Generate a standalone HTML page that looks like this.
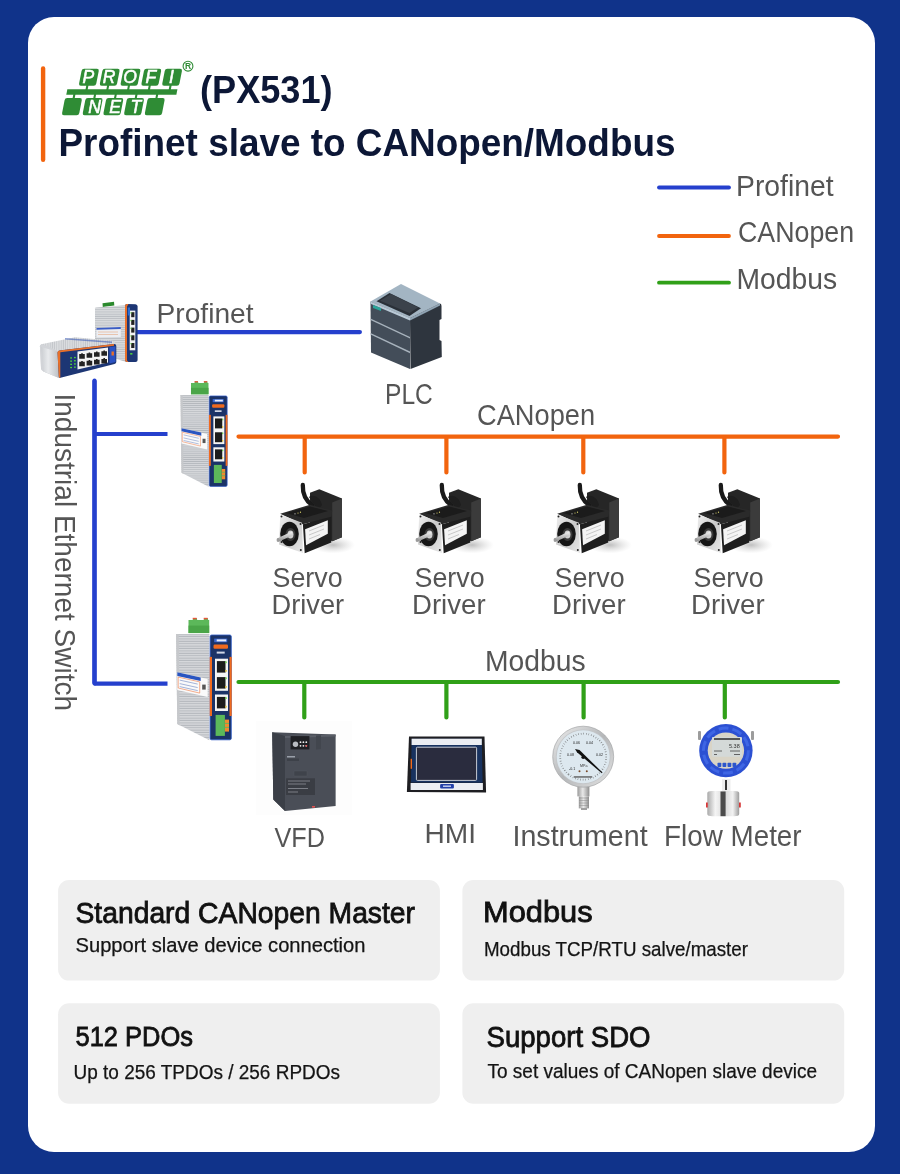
<!DOCTYPE html>
<html><head><meta charset="utf-8"><title>PX531</title>
<style>
html,body{margin:0;padding:0;width:900px;height:1174px;overflow:hidden;background:#10338a;}
svg{display:block;font-family:"Liberation Sans",sans-serif;will-change:transform;}
</style></head><body>
<svg width="900" height="1174" viewBox="0 0 900 1174">
<rect x="0" y="0" width="900" height="1174" fill="#10338a"/>
<rect x="28" y="17" width="847" height="1135" rx="26" fill="#fff"/>
<line x1="43.1" y1="68.5" x2="43.1" y2="159.7" stroke="#f2640e" stroke-width="4.4" stroke-linecap="round"/>
<text x="200.0" y="103.2" font-size="39" fill="#0c1736" textLength="132.6" lengthAdjust="spacingAndGlyphs" font-weight="bold">(PX531)</text>
<text x="58.5" y="156.4" font-size="38.4" fill="#0c1736" textLength="617.0" lengthAdjust="spacingAndGlyphs" font-weight="bold">Profinet slave to CANopen/Modbus</text>
<line x1="659" y1="187.5" x2="729" y2="187.5" stroke="#2540cd" stroke-width="3.8" stroke-linecap="round"/>
<line x1="659" y1="236" x2="729" y2="236" stroke="#f2640e" stroke-width="3.8" stroke-linecap="round"/>
<line x1="659" y1="282.7" x2="729" y2="282.7" stroke="#30a018" stroke-width="3.8" stroke-linecap="round"/>
<text x="736.0" y="196.3" font-size="28.6" fill="#555555" textLength="97.6" lengthAdjust="spacingAndGlyphs">Profinet</text>
<text x="738.0" y="242.2" font-size="28.6" fill="#555555" textLength="116.1" lengthAdjust="spacingAndGlyphs">CANopen</text>
<text x="736.5" y="289.3" font-size="28.6" fill="#555555" textLength="100.6" lengthAdjust="spacingAndGlyphs">Modbus</text>
<g stroke-linecap="round" fill="none" stroke-width="4.2">
<path d="M136 332.1H359.9" stroke="#2540cd"/>
<path d="M94.5 380.5V683.6 M94.5 434H167.5 M94.5 683.6H167.5" stroke="#2540cd" stroke-linecap="butt"/>
<path d="M94.5 380.5V683.6" stroke="#2540cd"/>
<path d="M238.5 436.6H838 M304.7 436.6V472.5 M446.4 436.6V472.5 M583.3 436.6V472.5 M724.4 436.6V472.5" stroke="#f2640e"/>
<path d="M238.5 682H838 M304.3 682V717.5 M446.4 682V717.5 M583.6 682V717.5 M724.8 682V717.5" stroke="#30a018"/>
</g>
<text x="156.5" y="323.4" font-size="28.5" fill="#555555" textLength="97.1" lengthAdjust="spacingAndGlyphs">Profinet</text>
<text x="385.0" y="403.8" font-size="28.7" fill="#555555" textLength="47.8" lengthAdjust="spacingAndGlyphs">PLC</text>
<text x="477.0" y="425.3" font-size="28.6" fill="#555555" textLength="118.1" lengthAdjust="spacingAndGlyphs">CANopen</text>
<text x="485.0" y="670.7" font-size="28.6" fill="#555555" textLength="100.6" lengthAdjust="spacingAndGlyphs">Modbus</text>
<text x="272.5" y="586.5" font-size="28" fill="#555555" textLength="70.1" lengthAdjust="spacingAndGlyphs">Servo</text>
<text x="271.5" y="614.0" font-size="28" fill="#555555" textLength="72.6" lengthAdjust="spacingAndGlyphs">Driver</text>
<text x="414.5" y="586.5" font-size="28" fill="#555555" textLength="70.1" lengthAdjust="spacingAndGlyphs">Servo</text>
<text x="412.0" y="614.0" font-size="28" fill="#555555" textLength="73.6" lengthAdjust="spacingAndGlyphs">Driver</text>
<text x="554.5" y="586.5" font-size="28" fill="#555555" textLength="70.1" lengthAdjust="spacingAndGlyphs">Servo</text>
<text x="552.0" y="614.0" font-size="28" fill="#555555" textLength="73.6" lengthAdjust="spacingAndGlyphs">Driver</text>
<text x="693.5" y="586.5" font-size="28" fill="#555555" textLength="70.1" lengthAdjust="spacingAndGlyphs">Servo</text>
<text x="691.0" y="614.0" font-size="28" fill="#555555" textLength="73.6" lengthAdjust="spacingAndGlyphs">Driver</text>
<text x="274.5" y="846.5" font-size="28.3" fill="#555555" textLength="50.5" lengthAdjust="spacingAndGlyphs">VFD</text>
<text x="424.5" y="843.0" font-size="28" fill="#555555" textLength="51.5" lengthAdjust="spacingAndGlyphs">HMI</text>
<text x="512.5" y="845.5" font-size="28.6" fill="#555555" textLength="135.1" lengthAdjust="spacingAndGlyphs">Instrument</text>
<text x="664.0" y="845.5" font-size="28.6" fill="#555555" textLength="137.6" lengthAdjust="spacingAndGlyphs">Flow Meter</text>
<g transform="translate(55.2 395.5) rotate(90)"><text x="-2.0" y="0.0" font-size="28.9" fill="#555555" textLength="317.5" lengthAdjust="spacingAndGlyphs">Industrial Ethernet Switch</text></g>
<rect x="58.1" y="880.1" width="381.8" height="100.5" rx="11" fill="#efefef"/>
<rect x="462.4" y="880.1" width="381.8" height="100.5" rx="11" fill="#efefef"/>
<rect x="58.1" y="1003.2" width="381.8" height="100.5" rx="11" fill="#efefef"/>
<rect x="462.4" y="1003.2" width="381.8" height="100.5" rx="11" fill="#efefef"/>
<text x="75.5" y="923.2" font-size="28.8" fill="#111111" textLength="339.5" lengthAdjust="spacingAndGlyphs" stroke="#111" stroke-width="0.8">Standard CANopen Master</text>
<text x="75.5" y="951.7" font-size="19.7" fill="#141414" textLength="290.0" lengthAdjust="spacingAndGlyphs" stroke="#141414" stroke-width="0.25">Support slave device connection</text>
<text x="483.0" y="922.4" font-size="28.6" fill="#111111" textLength="109.6" lengthAdjust="spacingAndGlyphs" stroke="#111" stroke-width="0.8">Modbus</text>
<text x="484.0" y="955.7" font-size="19.7" fill="#141414" textLength="264.0" lengthAdjust="spacingAndGlyphs" stroke="#141414" stroke-width="0.25">Modbus TCP/RTU salve/master</text>
<text x="75.5" y="1046.1" font-size="28.2" fill="#111111" textLength="117.5" lengthAdjust="spacingAndGlyphs" stroke="#111" stroke-width="0.8">512 PDOs</text>
<text x="73.5" y="1078.8" font-size="19.9" fill="#141414" textLength="266.5" lengthAdjust="spacingAndGlyphs" stroke="#141414" stroke-width="0.25">Up to 256 TPDOs / 256 RPDOs</text>
<text x="486.5" y="1046.9" font-size="29" fill="#111111" textLength="164.0" lengthAdjust="spacingAndGlyphs" stroke="#111" stroke-width="0.8">Support SDO</text>
<text x="487.5" y="1078.0" font-size="19.9" fill="#141414" textLength="329.5" lengthAdjust="spacingAndGlyphs" stroke="#141414" stroke-width="0.25">To set values of CANopen slave device</text>
<g transform="translate(0 91.9) skewX(-11)" fill="#2f8c35">
<rect x="66.8" y="-2.75" width="110.1" height="5.5"/>
<rect x="77.45" y="-23.2" width="17.2" height="17" rx="2.2"/>
<rect x="85.05" y="-7" width="2.1" height="5"/>
<rect x="98.25" y="-23.2" width="17.2" height="17" rx="2.2"/>
<rect x="105.85" y="-7" width="2.1" height="5"/>
<rect x="119.05" y="-23.2" width="17.2" height="17" rx="2.2"/>
<rect x="126.65" y="-7" width="2.1" height="5"/>
<rect x="139.85" y="-23.2" width="17.2" height="17" rx="2.2"/>
<rect x="147.45" y="-7" width="2.1" height="5"/>
<rect x="160.65" y="-23.2" width="17.2" height="17" rx="2.2"/>
<rect x="168.25" y="-7" width="2.1" height="5"/>
<rect x="66.20" y="6.2" width="17.2" height="17.1" rx="2.2"/>
<rect x="73.80" y="2" width="2.1" height="5"/>
<rect x="86.90" y="6.2" width="17.2" height="17.1" rx="2.2"/>
<rect x="94.50" y="2" width="2.1" height="5"/>
<rect x="107.60" y="6.2" width="17.2" height="17.1" rx="2.2"/>
<rect x="115.20" y="2" width="2.1" height="5"/>
<rect x="128.30" y="6.2" width="17.2" height="17.1" rx="2.2"/>
<rect x="135.90" y="2" width="2.1" height="5"/>
<rect x="149.00" y="6.2" width="17.2" height="17.1" rx="2.2"/>
<rect x="156.60" y="2" width="2.1" height="5"/>
</g>
<g font-family="Liberation Sans" font-style="italic" font-size="17.5" fill="#fff" stroke="#fff" stroke-width="0.55" text-anchor="middle">
<text x="88.35" y="83.4">P</text>
<text x="109.15" y="83.4">R</text>
<text x="129.95" y="83.4">O</text>
<text x="150.75" y="83.4">F</text>
<text x="171.55" y="83.4">I</text>
<text x="94.50" y="112.8">N</text>
<text x="115.20" y="112.8">E</text>
<text x="135.90" y="112.8">T</text>
</g>
<circle cx="188" cy="66.2" r="4.9" fill="none" stroke="#2f8c35" stroke-width="1.1"/>
<text x="188" y="69.4" font-size="8.5" font-weight="bold" fill="#2f8c35" text-anchor="middle">R</text>
<defs>
<pattern id="ribs" width="4" height="2.2" patternUnits="userSpaceOnUse"><rect width="4" height="2.2" fill="#dadcdf"/><rect y="1.3" width="4" height="0.9" fill="#b9bdc2"/></pattern>
<pattern id="ribsv" width="2.2" height="4" patternUnits="userSpaceOnUse"><rect width="2.2" height="4" fill="#dcdee1"/><rect x="1.3" width="0.9" height="4" fill="#c2c5c9"/></pattern>
<linearGradient id="silv" x1="0" y1="0" x2="1" y2="0"><stop offset="0" stop-color="#c9ccd0"/><stop offset="0.4" stop-color="#eceef0"/><stop offset="1" stop-color="#b8bcc1"/></linearGradient>
</defs>
<path d="M102.5 303.2 L114 301.8 L114.3 305.6 L102.8 307 Z" fill="#2c8a2e"/>
<path d="M95 308.5 Q95 307.6 96 307.5 L125.3 305.2 L125.3 361.8 L95 352 Z" fill="url(#ribs)"/>
<path d="M96.5 328 L120.8 327 L120.8 337 L96.5 337.5 Z" fill="#eceef2"/>
<path d="M96.5 328 L120.8 327 L120.8 329 L96.5 329.8 Z" fill="#3a5cc4"/><path d="M98 332 h20 M98 334.5 h20" stroke="#e59a6a" stroke-width="0.5"/>
<path d="M125 306 Q125 304 127 304 L135.5 304.3 Q137.6 304.6 137.6 306.5 L137.6 360 Q137.6 362 135.5 362 L127 362 Q125 362 125 360 Z" fill="#1d3674"/>
<path d="M125 306 Q125 304 127 304 L128.5 304 L127 306.5 L127 360.5 L128.5 362 L127 362 Q125 362 125 360 Z" fill="#e8702a"/>
<rect x="129.7" y="310.6" width="5.6" height="39.7" fill="#f2f2f2"/>
<rect x="131.2" y="312.2" width="3.2" height="5" fill="#222"/>
<rect x="130.5" y="312.2" width="1" height="1.3" fill="#5ecf3a"/>
<rect x="131.2" y="319.9" width="3.2" height="5" fill="#222"/>
<rect x="130.5" y="319.9" width="1" height="1.3" fill="#5ecf3a"/>
<rect x="131.2" y="327.6" width="3.2" height="5" fill="#222"/>
<rect x="130.5" y="327.6" width="1" height="1.3" fill="#5ecf3a"/>
<rect x="131.2" y="335.3" width="3.2" height="5" fill="#222"/>
<rect x="130.5" y="335.3" width="1" height="1.3" fill="#5ecf3a"/>
<rect x="131.2" y="343.0" width="3.2" height="5" fill="#222"/>
<rect x="130.5" y="343.0" width="1" height="1.3" fill="#5ecf3a"/>
<rect x="127.8" y="307.5" width="2.2" height="8" fill="#2f6fd0"/>
<rect x="130.2" y="353" width="2.2" height="1.6" fill="#4ccf3a"/>
<path d="M40 347.5 Q39.2 344.8 42.5 344 L75 337.3 L113.5 340.7 L116.5 344.5 L59 351.5 L59 378 L43.5 371.5 Q41.2 370.5 41 368 Z" fill="url(#ribsv)"/>
<path d="M40 347.5 Q39.2 344.8 42.5 344 L57 350.5 L59 378 L43.5 371.5 Q41.2 370.5 41 368 Z" fill="#d2d4d8"/>
<path d="M41 347 L57 351.5 L59 378 L44 371.5 Z" fill="url(#silv)" opacity="0.85"/>
<path d="M65 338 L112 341.5 L112 343 L65 339.5 Z" fill="#3d5db5" opacity="0.6"/>
<path d="M57.5 352.5 Q57.5 350.8 59.5 350.5 L114 344 Q116.3 343.8 116.3 346 L116.3 362 Q116.3 363.6 114.5 364 L60.5 377.8 Q58.8 378.2 58.8 376.5 Z" fill="#1d3674"/>
<path d="M57.5 352.5 Q57.5 350.8 59.5 350.5 L114 344 L114 345.8 L60.3 352.3 L60.3 377.5 Q58.8 378 58.8 376.5 Z" fill="#e8702a"/>
<path d="M77.5 351.4 L108 347.6 L108 362.4 L77.5 369.5 Z" fill="#f3f3f3"/>
<path d="M79.2 354.1 h2 v-0.8 h1.6 v0.8 h2 v4.6 h-5.6 z" fill="#222"/>
<path d="M86.6 353.2 h2 v-0.8 h1.6 v0.8 h2 v4.6 h-5.6 z" fill="#222"/>
<path d="M94.0 352.2 h2 v-0.8 h1.6 v0.8 h2 v4.6 h-5.6 z" fill="#222"/>
<path d="M101.4 351.2 h2 v-0.8 h1.6 v0.8 h2 v4.6 h-5.6 z" fill="#222"/>
<path d="M79.2 361.7 h2 v-0.8 h1.6 v0.8 h2 v4.6 h-5.6 z" fill="#222"/>
<path d="M86.6 360.8 h2 v-0.8 h1.6 v0.8 h2 v4.6 h-5.6 z" fill="#222"/>
<path d="M94.0 359.8 h2 v-0.8 h1.6 v0.8 h2 v4.6 h-5.6 z" fill="#222"/>
<path d="M101.4 358.9 h2 v-0.8 h1.6 v0.8 h2 v4.6 h-5.6 z" fill="#222"/>
<rect x="70.2" y="357.3" width="1.8" height="1.3" fill="#4fd03a"/>
<rect x="74.0" y="356.9" width="1.8" height="1.3" fill="#4fd03a"/>
<rect x="70.2" y="360.5" width="1.8" height="1.3" fill="#4fd03a"/>
<rect x="74.0" y="360.1" width="1.8" height="1.3" fill="#4fd03a"/>
<rect x="70.2" y="363.7" width="1.8" height="1.3" fill="#4fd03a"/>
<rect x="74.0" y="363.3" width="1.8" height="1.3" fill="#4fd03a"/>
<rect x="70.2" y="366.9" width="1.8" height="1.3" fill="#4fd03a"/>
<rect x="74.0" y="366.5" width="1.8" height="1.3" fill="#4fd03a"/>
<path d="M109.5 347 L115.5 346.2 L115.5 362 L109.5 363.5 Z" fill="#2b52c2"/>
<rect x="111.5" y="351.5" width="2.4" height="4" fill="#e8702a"/>
<path d="M370.5 301.5 L401 284 L440 303.5 L410 318 Z" fill="#a3b5c3"/>
<path d="M376.5 301.3 L389.5 293 L421 308.3 L409.5 316 Z" fill="#2a3038"/>
<path d="M380 300.8 L391 294 L418 307.5 L409.5 313 Z" fill="#3b424b"/>
<path d="M370.5 301.5 L410 318 L410 369 L371 352.5 Z" fill="#434d59"/>
<path d="M410 318 L440 303.5 Q441.5 303.8 441.5 306 L441.5 319 L439.5 320 L439.5 340 L441.5 341 L441.8 357 L410.5 369 Z" fill="#2e353e"/>
<path d="M370.5 301.5 L410 318 L410 320.5 L370.5 303.8 Z" fill="#b9c9d6"/>
<path d="M410 318 L440 303.5 L440 305.5 L410 320.5 Z" fill="#8fa3b3"/>
<path d="M370.5 318.5 L410 337 L410 338.6 L370.5 320 Z" fill="#a7b2bc"/>
<path d="M370.5 333 L410 351.5 L410 353.2 L370.5 334.6 Z" fill="#a7b2bc"/>
<path d="M373 305 L381 308 L381 311 L373 308 Z" fill="#2aa59a"/>
<defs><pattern id="ribs2" width="4" height="2.4" patternUnits="userSpaceOnUse"><rect width="4" height="2.4" fill="#d7d9dc"/><rect y="1.4" width="4" height="1" fill="#b3b7bc"/></pattern></defs>
<g transform="translate(209.7 634.6)"><path d="M-21.2 -14.5 L-17 -14.5 L-16.5 -16.6 L-13 -16.6 L-12.5 -14.5 L-6 -14.5 L-5.5 -16.6 L-2 -16.6 L-1.5 -14.5 L-0.5 -14.5 L-0.5 -1.5 L-21.2 -1.5 Z" fill="#5cb85a"/>
<rect x="-17" y="-16.8" width="4" height="1.5" fill="#e6553a"/><rect x="-6" y="-16.8" width="4" height="1.5" fill="#e6553a"/>
<rect x="-21.2" y="-9" width="20.7" height="7.5" fill="#4aa548"/>
<path d="M-33.6 -0.6 L-0.3 -0.6 L-0.3 105.6 L-32.4 89.5 Z" fill="url(#ribs2)"/>
<path d="M-33.6 -0.6 L-31 -0.6 L-30 90.8 L-32.4 89.5 Z" fill="#c6c8cb"/>
<path d="M-32.4 37.7 L-2.1 44.4 L-2.1 62.4 L-32.4 55.4 Z" fill="#fafafa"/>
<path d="M-32.4 37.7 L-9 42.8 L-9 46.5 L-32.4 41.4 Z" fill="#2a55c0"/>
<path d="M-31.5 42.5 L-10 47.3 L-10 58.5 L-31.5 53.4 Z" fill="none" stroke="#ef7a45" stroke-width="0.6"/>
<path d="M-30 45.5 L-12 49.5 M-30 49 L-12 53 M-30 52 L-12 56" stroke="#7f95c9" stroke-width="0.7"/>
<rect x="-7.5" y="50" width="3.5" height="5" fill="#555"/>
<rect x="0.4" y="0.4" width="21.2" height="104.8" rx="1.5" fill="#1b3367" stroke="#2f5cc8" stroke-width="0.8"/>
<rect x="0" y="22.3" width="2.3" height="59.1" fill="#f06a1e"/>
<rect x="19.8" y="22.3" width="2.2" height="59.1" fill="#f06a1e"/>
<rect x="4.5" y="4" width="13" height="3.6" fill="#3a66cf"/>
<rect x="7" y="4.8" width="9.5" height="2" fill="#e9eefa"/>
<rect x="3.8" y="9.9" width="14.5" height="4.3" rx="1.2" fill="#f06a1e"/>
<rect x="7" y="17" width="8" height="2" fill="#cfd6e6"/>
<rect x="5.3" y="24.1" width="13" height="32.1" fill="#f5f5f5"/>
<rect x="5.3" y="59.9" width="13" height="16.5" fill="#f5f5f5"/>
<rect x="7.2" y="26.5" width="8.6" height="11.5" fill="#1c1c1c"/>
<rect x="15.5" y="26.8" width="1.5" height="1.8" fill="#6bd04a"/>
<rect x="15.5" y="35.4" width="1.5" height="1.8" fill="#e3c33a"/>
<rect x="7.2" y="42.5" width="8.6" height="11.5" fill="#1c1c1c"/>
<rect x="15.5" y="42.8" width="1.5" height="1.8" fill="#6bd04a"/>
<rect x="15.5" y="51.4" width="1.5" height="1.8" fill="#e3c33a"/>
<rect x="7.2" y="62.3" width="8.6" height="11.5" fill="#1c1c1c"/>
<rect x="15.5" y="62.599999999999994" width="1.5" height="1.8" fill="#6bd04a"/>
<rect x="15.5" y="71.2" width="1.5" height="1.8" fill="#e3c33a"/>
<rect x="5.9" y="80.3" width="9.3" height="21" fill="#5cb85a"/>
<rect x="15.2" y="85" width="4.1" height="12" fill="#f08a2e"/>
<path d="M15.2 88.8 h4.1 M15.2 92.8 h4.1" stroke="#5cb85a" stroke-width="0.9"/></g>
<g transform="translate(208.9 395.6) scale(0.845 0.863)"><path d="M-21.2 -14.5 L-17 -14.5 L-16.5 -16.6 L-13 -16.6 L-12.5 -14.5 L-6 -14.5 L-5.5 -16.6 L-2 -16.6 L-1.5 -14.5 L-0.5 -14.5 L-0.5 -1.5 L-21.2 -1.5 Z" fill="#5cb85a"/>
<rect x="-17" y="-16.8" width="4" height="1.5" fill="#e6553a"/><rect x="-6" y="-16.8" width="4" height="1.5" fill="#e6553a"/>
<rect x="-21.2" y="-9" width="20.7" height="7.5" fill="#4aa548"/>
<path d="M-33.6 -0.6 L-0.3 -0.6 L-0.3 105.6 L-32.4 89.5 Z" fill="url(#ribs2)"/>
<path d="M-33.6 -0.6 L-31 -0.6 L-30 90.8 L-32.4 89.5 Z" fill="#c6c8cb"/>
<path d="M-32.4 37.7 L-2.1 44.4 L-2.1 62.4 L-32.4 55.4 Z" fill="#fafafa"/>
<path d="M-32.4 37.7 L-9 42.8 L-9 46.5 L-32.4 41.4 Z" fill="#2a55c0"/>
<path d="M-31.5 42.5 L-10 47.3 L-10 58.5 L-31.5 53.4 Z" fill="none" stroke="#ef7a45" stroke-width="0.6"/>
<path d="M-30 45.5 L-12 49.5 M-30 49 L-12 53 M-30 52 L-12 56" stroke="#7f95c9" stroke-width="0.7"/>
<rect x="-7.5" y="50" width="3.5" height="5" fill="#555"/>
<rect x="0.4" y="0.4" width="21.2" height="104.8" rx="1.5" fill="#1b3367" stroke="#2f5cc8" stroke-width="0.8"/>
<rect x="0" y="22.3" width="2.3" height="59.1" fill="#f06a1e"/>
<rect x="19.8" y="22.3" width="2.2" height="59.1" fill="#f06a1e"/>
<rect x="4.5" y="4" width="13" height="3.6" fill="#3a66cf"/>
<rect x="7" y="4.8" width="9.5" height="2" fill="#e9eefa"/>
<rect x="3.8" y="9.9" width="14.5" height="4.3" rx="1.2" fill="#f06a1e"/>
<rect x="7" y="17" width="8" height="2" fill="#cfd6e6"/>
<rect x="5.3" y="24.1" width="13" height="32.1" fill="#f5f5f5"/>
<rect x="5.3" y="59.9" width="13" height="16.5" fill="#f5f5f5"/>
<rect x="7.2" y="26.5" width="8.6" height="11.5" fill="#1c1c1c"/>
<rect x="15.5" y="26.8" width="1.5" height="1.8" fill="#6bd04a"/>
<rect x="15.5" y="35.4" width="1.5" height="1.8" fill="#e3c33a"/>
<rect x="7.2" y="42.5" width="8.6" height="11.5" fill="#1c1c1c"/>
<rect x="15.5" y="42.8" width="1.5" height="1.8" fill="#6bd04a"/>
<rect x="15.5" y="51.4" width="1.5" height="1.8" fill="#e3c33a"/>
<rect x="7.2" y="62.3" width="8.6" height="11.5" fill="#1c1c1c"/>
<rect x="15.5" y="62.599999999999994" width="1.5" height="1.8" fill="#6bd04a"/>
<rect x="15.5" y="71.2" width="1.5" height="1.8" fill="#e3c33a"/>
<rect x="5.9" y="80.3" width="9.3" height="21" fill="#5cb85a"/>
<rect x="15.2" y="85" width="4.1" height="12" fill="#f08a2e"/>
<path d="M15.2 88.8 h4.1 M15.2 92.8 h4.1" stroke="#5cb85a" stroke-width="0.9"/></g>
<defs><radialGradient id="shad" cx="0.5" cy="0.5" r="0.5"><stop offset="0" stop-color="#8a8a8a" stop-opacity="0.55"/><stop offset="1" stop-color="#bbb" stop-opacity="0"/></radialGradient><linearGradient id="flg" x1="0" y1="0" x2="1" y2="1"><stop offset="0" stop-color="#f2f2f2"/><stop offset="0.5" stop-color="#c9c9c9"/><stop offset="1" stop-color="#e8e8e8"/></linearGradient><linearGradient id="shaft" x1="0" y1="0" x2="0" y2="1"><stop offset="0" stop-color="#f5f5f5"/><stop offset="1" stop-color="#8c8c8c"/></linearGradient></defs>
<g transform="translate(0 0)"><ellipse cx="333" cy="545" rx="22" ry="8.5" fill="url(#shad)"/>
<path d="M310 492.8 L319.3 489.2 L342 498.6 L342 537.2 L332.2 541.2 L310 530 Z" fill="#262626"/>
<path d="M332.2 502.5 L342 498.6 L342 537.2 L332.2 541.2 Z" fill="#3b3b3b"/>
<path d="M302.8 485 C302.5 494 305 500 312 505" stroke="#1a1a1a" stroke-width="4.3" fill="none" stroke-linecap="round"/>
<path d="M309 497 C312 494 320 496 322 505 L318 510 Z" fill="#1e1e1e"/>
<path d="M280.2 513.7 L310 504.8 L332.2 510.6 L331.3 516.8 L302.9 524.3 Z" fill="#2a2a2a"/>
<path d="M286 513 L310 506.5 L328 511 L304 518 Z" fill="#1b1b1b"/>
<path d="M302.9 524.3 L331.3 516.8 L331.3 542.6 L304.7 553.2 Z" fill="#1e1e1e"/>
<path d="M305.1 529.2 L327.8 520.3 L327.8 533.7 L306 545.2 Z" fill="#f4f4f4"/>
<path d="M309 531 L324 525 M309 535 L324 529 M309 539 L320 534.5" stroke="#aaa" stroke-width="0.6"/>
<path d="M280.2 514.5 L302 522.8 L303 553 L279 544.5 Z" fill="url(#flg)"/>
<ellipse cx="289.5" cy="534" rx="9.3" ry="12.2" fill="#161616"/>
<ellipse cx="290.5" cy="534.5" rx="5" ry="6.5" fill="#3a3a3a"/>
<ellipse cx="290.5" cy="534.5" rx="3" ry="4" fill="#d0d0d0"/>
<path d="M292 531.5 L277.5 538.2 L278.5 541.8 L293 535.2 Z" fill="url(#shaft)"/>
<ellipse cx="278" cy="540" rx="1.4" ry="2" fill="#9a9a9a"/>
<circle cx="281.5" cy="516.5" r="1" fill="#222"/>
<circle cx="300.5" cy="524" r="1" fill="#222"/>
<circle cx="300.8" cy="550" r="1" fill="#222"/>
<circle cx="281.5" cy="542" r="1" fill="#222"/>
<circle cx="295" cy="513.8" r="0.6" fill="#ddd"/><circle cx="298" cy="513" r="0.6" fill="#e8e070"/><circle cx="300.5" cy="512.2" r="0.6" fill="#e8e070"/></g>
<g transform="translate(139 0)"><ellipse cx="333" cy="545" rx="22" ry="8.5" fill="url(#shad)"/>
<path d="M310 492.8 L319.3 489.2 L342 498.6 L342 537.2 L332.2 541.2 L310 530 Z" fill="#262626"/>
<path d="M332.2 502.5 L342 498.6 L342 537.2 L332.2 541.2 Z" fill="#3b3b3b"/>
<path d="M302.8 485 C302.5 494 305 500 312 505" stroke="#1a1a1a" stroke-width="4.3" fill="none" stroke-linecap="round"/>
<path d="M309 497 C312 494 320 496 322 505 L318 510 Z" fill="#1e1e1e"/>
<path d="M280.2 513.7 L310 504.8 L332.2 510.6 L331.3 516.8 L302.9 524.3 Z" fill="#2a2a2a"/>
<path d="M286 513 L310 506.5 L328 511 L304 518 Z" fill="#1b1b1b"/>
<path d="M302.9 524.3 L331.3 516.8 L331.3 542.6 L304.7 553.2 Z" fill="#1e1e1e"/>
<path d="M305.1 529.2 L327.8 520.3 L327.8 533.7 L306 545.2 Z" fill="#f4f4f4"/>
<path d="M309 531 L324 525 M309 535 L324 529 M309 539 L320 534.5" stroke="#aaa" stroke-width="0.6"/>
<path d="M280.2 514.5 L302 522.8 L303 553 L279 544.5 Z" fill="url(#flg)"/>
<ellipse cx="289.5" cy="534" rx="9.3" ry="12.2" fill="#161616"/>
<ellipse cx="290.5" cy="534.5" rx="5" ry="6.5" fill="#3a3a3a"/>
<ellipse cx="290.5" cy="534.5" rx="3" ry="4" fill="#d0d0d0"/>
<path d="M292 531.5 L277.5 538.2 L278.5 541.8 L293 535.2 Z" fill="url(#shaft)"/>
<ellipse cx="278" cy="540" rx="1.4" ry="2" fill="#9a9a9a"/>
<circle cx="281.5" cy="516.5" r="1" fill="#222"/>
<circle cx="300.5" cy="524" r="1" fill="#222"/>
<circle cx="300.8" cy="550" r="1" fill="#222"/>
<circle cx="281.5" cy="542" r="1" fill="#222"/>
<circle cx="295" cy="513.8" r="0.6" fill="#ddd"/><circle cx="298" cy="513" r="0.6" fill="#e8e070"/><circle cx="300.5" cy="512.2" r="0.6" fill="#e8e070"/></g>
<g transform="translate(277 0)"><ellipse cx="333" cy="545" rx="22" ry="8.5" fill="url(#shad)"/>
<path d="M310 492.8 L319.3 489.2 L342 498.6 L342 537.2 L332.2 541.2 L310 530 Z" fill="#262626"/>
<path d="M332.2 502.5 L342 498.6 L342 537.2 L332.2 541.2 Z" fill="#3b3b3b"/>
<path d="M302.8 485 C302.5 494 305 500 312 505" stroke="#1a1a1a" stroke-width="4.3" fill="none" stroke-linecap="round"/>
<path d="M309 497 C312 494 320 496 322 505 L318 510 Z" fill="#1e1e1e"/>
<path d="M280.2 513.7 L310 504.8 L332.2 510.6 L331.3 516.8 L302.9 524.3 Z" fill="#2a2a2a"/>
<path d="M286 513 L310 506.5 L328 511 L304 518 Z" fill="#1b1b1b"/>
<path d="M302.9 524.3 L331.3 516.8 L331.3 542.6 L304.7 553.2 Z" fill="#1e1e1e"/>
<path d="M305.1 529.2 L327.8 520.3 L327.8 533.7 L306 545.2 Z" fill="#f4f4f4"/>
<path d="M309 531 L324 525 M309 535 L324 529 M309 539 L320 534.5" stroke="#aaa" stroke-width="0.6"/>
<path d="M280.2 514.5 L302 522.8 L303 553 L279 544.5 Z" fill="url(#flg)"/>
<ellipse cx="289.5" cy="534" rx="9.3" ry="12.2" fill="#161616"/>
<ellipse cx="290.5" cy="534.5" rx="5" ry="6.5" fill="#3a3a3a"/>
<ellipse cx="290.5" cy="534.5" rx="3" ry="4" fill="#d0d0d0"/>
<path d="M292 531.5 L277.5 538.2 L278.5 541.8 L293 535.2 Z" fill="url(#shaft)"/>
<ellipse cx="278" cy="540" rx="1.4" ry="2" fill="#9a9a9a"/>
<circle cx="281.5" cy="516.5" r="1" fill="#222"/>
<circle cx="300.5" cy="524" r="1" fill="#222"/>
<circle cx="300.8" cy="550" r="1" fill="#222"/>
<circle cx="281.5" cy="542" r="1" fill="#222"/>
<circle cx="295" cy="513.8" r="0.6" fill="#ddd"/><circle cx="298" cy="513" r="0.6" fill="#e8e070"/><circle cx="300.5" cy="512.2" r="0.6" fill="#e8e070"/></g>
<g transform="translate(418 0)"><ellipse cx="333" cy="545" rx="22" ry="8.5" fill="url(#shad)"/>
<path d="M310 492.8 L319.3 489.2 L342 498.6 L342 537.2 L332.2 541.2 L310 530 Z" fill="#262626"/>
<path d="M332.2 502.5 L342 498.6 L342 537.2 L332.2 541.2 Z" fill="#3b3b3b"/>
<path d="M302.8 485 C302.5 494 305 500 312 505" stroke="#1a1a1a" stroke-width="4.3" fill="none" stroke-linecap="round"/>
<path d="M309 497 C312 494 320 496 322 505 L318 510 Z" fill="#1e1e1e"/>
<path d="M280.2 513.7 L310 504.8 L332.2 510.6 L331.3 516.8 L302.9 524.3 Z" fill="#2a2a2a"/>
<path d="M286 513 L310 506.5 L328 511 L304 518 Z" fill="#1b1b1b"/>
<path d="M302.9 524.3 L331.3 516.8 L331.3 542.6 L304.7 553.2 Z" fill="#1e1e1e"/>
<path d="M305.1 529.2 L327.8 520.3 L327.8 533.7 L306 545.2 Z" fill="#f4f4f4"/>
<path d="M309 531 L324 525 M309 535 L324 529 M309 539 L320 534.5" stroke="#aaa" stroke-width="0.6"/>
<path d="M280.2 514.5 L302 522.8 L303 553 L279 544.5 Z" fill="url(#flg)"/>
<ellipse cx="289.5" cy="534" rx="9.3" ry="12.2" fill="#161616"/>
<ellipse cx="290.5" cy="534.5" rx="5" ry="6.5" fill="#3a3a3a"/>
<ellipse cx="290.5" cy="534.5" rx="3" ry="4" fill="#d0d0d0"/>
<path d="M292 531.5 L277.5 538.2 L278.5 541.8 L293 535.2 Z" fill="url(#shaft)"/>
<ellipse cx="278" cy="540" rx="1.4" ry="2" fill="#9a9a9a"/>
<circle cx="281.5" cy="516.5" r="1" fill="#222"/>
<circle cx="300.5" cy="524" r="1" fill="#222"/>
<circle cx="300.8" cy="550" r="1" fill="#222"/>
<circle cx="281.5" cy="542" r="1" fill="#222"/>
<circle cx="295" cy="513.8" r="0.6" fill="#ddd"/><circle cx="298" cy="513" r="0.6" fill="#e8e070"/><circle cx="300.5" cy="512.2" r="0.6" fill="#e8e070"/></g>
<rect x="256" y="721" width="96" height="94" fill="#fdfdfd"/>
<path d="M272.2 732.2 L335.6 734.4 L335.6 806.1 L285 811.1 L273.3 799.4 Z" fill="#4a4e57"/>
<path d="M272.2 732.2 L285 736 L285 811.1 L273.3 799.4 Z" fill="#3b3f47"/>
<path d="M285 736 L335.6 734.4 L335.6 736.5 L285 738 Z" fill="#5a5e67"/>
<path d="M316 735.5 L321 735.3 L321 749 L316 749.5 Z" fill="#42464e"/>
<rect x="290.6" y="736.1" width="18.8" height="13.3" fill="#1f2024"/>
<circle cx="295.5" cy="744.2" r="2.7" fill="#b9bcc2"/>
<circle cx="300.5" cy="742.2" r="0.9" fill="#eee"/>
<circle cx="300.5" cy="745.8" r="0.9" fill="#eee"/>
<circle cx="303.4" cy="742.2" r="0.9" fill="#eee"/>
<circle cx="303.4" cy="745.8" r="0.9" fill="#eee"/>
<circle cx="306.3" cy="742.2" r="0.9" fill="#eee"/>
<circle cx="306.3" cy="745.8" r="0.9" fill="#eee"/>
<circle cx="306.3" cy="745.8" r="0.9" fill="#e04848"/>
<rect x="287" y="756" width="8" height="1.5" fill="#9aa0aa"/><rect x="287" y="758.5" width="12" height="2.5" fill="#3d4149"/>
<rect x="294" y="771" width="13" height="5" fill="#3f434b" stroke="#555962" stroke-width="0.4"/>
<rect x="286.1" y="778.3" width="28.9" height="16.7" fill="#3a3d44"/>
<path d="M288 781 h22 M288 784 h18 M288 788.5 h20 M288 792 h10" stroke="#8d9198" stroke-width="0.8"/>
<rect x="312" y="806" width="3" height="1.6" fill="#e05050"/>
<path d="M409 736.4 L484.5 736.4 L486.1 792.6 L406.9 792 Z" fill="#1e1e22"/>
<path d="M411.6 738.7 L481.8 738.7 L482.6 782.8 L411 782.5 Z" fill="#18325f"/>
<rect x="411.6" y="738.7" width="70.2" height="6.3" fill="#eceef2"/>
<rect x="410.6" y="783" width="72.3" height="7" fill="#eceef2"/>
<rect x="416.4" y="747.2" width="60.2" height="33.2" rx="1" fill="#2a2c3e" stroke="#d9dce3" stroke-width="0.9"/>
<rect x="440.1" y="784.1" width="13.8" height="4.3" rx="1" fill="#2340a8"/>
<rect x="443" y="785.5" width="8" height="1.4" fill="#c9d3f0"/>
<rect x="410.6" y="758.8" width="1.4" height="10" fill="#f06a1e"/>
<defs><linearGradient id="gring" x1="0" y1="0" x2="1" y2="1"><stop offset="0" stop-color="#eeeeee"/><stop offset="0.5" stop-color="#b4b6b8"/><stop offset="1" stop-color="#e6e6e6"/></linearGradient><linearGradient id="gstem" x1="0" y1="0" x2="1" y2="0"><stop offset="0" stop-color="#9a9a9a"/><stop offset="0.45" stop-color="#e8e8e8"/><stop offset="1" stop-color="#8e8e8e"/></linearGradient></defs>
<rect x="577.4" y="785" width="12" height="11.4" fill="url(#gstem)"/>
<rect x="578.8" y="796.4" width="10.2" height="12" fill="url(#gstem)"/>
<path d="M579 798 h10 M579 800.5 h10 M579 803 h10 M579 805.5 h10" stroke="#8a8a8a" stroke-width="0.5"/>
<rect x="581" y="808" width="6" height="2" fill="#a0a0a0"/>
<circle cx="583.2" cy="756.7" r="30.5" fill="url(#gring)" stroke="#9a9c9e" stroke-width="0.6"/>
<circle cx="583.2" cy="756.7" r="27.3" fill="#c3c6c9"/>
<circle cx="583.2" cy="756.7" r="26.5" fill="#dde8ef"/>
<circle cx="583.2" cy="756.7" r="23" fill="none" stroke="#5a5a5a" stroke-width="1.8" stroke-dasharray="0.45 2.1" transform="rotate(130 583.2 756.7)"/>
<g font-size="3.6" fill="#222" font-family="Liberation Sans"><text x="573" y="744">0.06</text><text x="586" y="744">0.04</text><text x="567" y="756">0.08</text><text x="596" y="756">0.02</text><text x="569" y="770">-0.1</text></g>
<rect x="574" y="776.3" width="18" height="1.3" fill="#555"/>
<circle cx="579.5" cy="771.3" r="1" fill="#7a4a2a"/><circle cx="586.8" cy="771.3" r="1" fill="#7a4a2a"/>
<text x="580" y="767" font-size="3.6" fill="#333" font-family="Liberation Sans">MPa</text>
<path d="M575 749 L579.5 750 L602.5 772.6 L601.8 773.2 L577 752.3 Z" fill="#111"/>
<circle cx="583.2" cy="757.3" r="1.8" fill="#111"/>
<defs><linearGradient id="cyl" x1="0" y1="0" x2="1" y2="0"><stop offset="0" stop-color="#a9a9a9"/><stop offset="0.25" stop-color="#f4f4f4"/><stop offset="0.55" stop-color="#d7d7d7"/><stop offset="0.8" stop-color="#f2f2f2"/><stop offset="1" stop-color="#9d9d9d"/></linearGradient></defs>
<rect x="722" y="779" width="8.5" height="12" fill="#eeeeee"/>
<rect x="725" y="780" width="2" height="10" fill="#333"/>
<path d="M707.3 793 Q707.3 790.9 712 790.9 L734.5 790.9 Q739.2 790.9 739.2 793 L739.2 814 Q739.2 816.2 734 816.2 L712.5 816.2 Q707.3 816.2 707.3 814 Z" fill="url(#cyl)"/>
<rect x="720.5" y="791.5" width="5.1" height="24.7" fill="#4b4b4b"/>
<rect x="706" y="802.5" width="1.8" height="5" fill="#d63a3a"/><rect x="739" y="802.5" width="1.8" height="5" fill="#d63a3a"/>
<rect x="698" y="731" width="3" height="9" rx="1" fill="#9c9c9c"/><rect x="751" y="731" width="3" height="9" rx="1" fill="#9c9c9c"/>
<circle cx="725.9" cy="750.6" r="26.7" fill="#2c50d2"/>
<circle cx="725.9" cy="750.6" r="22.5" fill="none" stroke="#3f66e4" stroke-width="3" stroke-dasharray="10 4"/>
<circle cx="725.9" cy="750.6" r="18.2" fill="#d9d4c6"/>
<rect x="712" y="737" width="30" height="19.7" rx="1" fill="#d4d9d8"/>
<rect x="714" y="738" width="26" height="2" fill="#555"/>
<text x="729" y="748" font-size="5.5" fill="#333" font-family="Liberation Sans">5.38</text>
<path d="M714 751 h8 M730 751 h10 M714 754.5 h3 M734 754.5 h6" stroke="#555" stroke-width="0.9"/>
<rect x="717.5" y="762.8" width="3.8" height="4.2" rx="0.8" fill="#2c56cc"/>
<rect x="722.5" y="762.8" width="3.8" height="4.2" rx="0.8" fill="#2c56cc"/>
<rect x="727.5" y="762.8" width="3.8" height="4.2" rx="0.8" fill="#2c56cc"/>
<rect x="732.5" y="762.8" width="3.8" height="4.2" rx="0.8" fill="#2c56cc"/>
</svg>
</body></html>
